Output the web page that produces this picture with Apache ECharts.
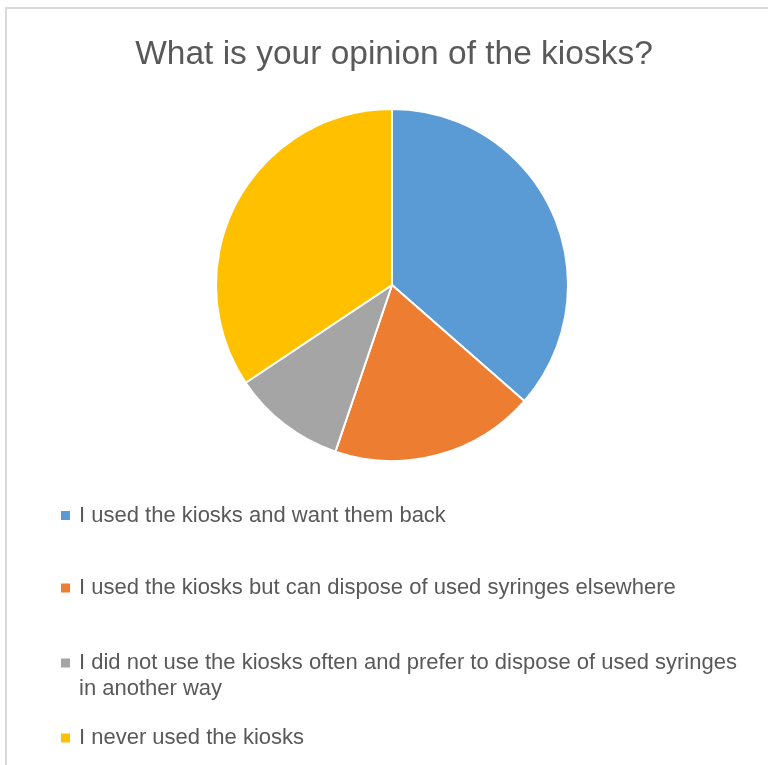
<!DOCTYPE html>
<html>
<head>
<meta charset="utf-8">
<script src="https://cdn.jsdelivr.net/npm/echarts@6/dist/echarts.min.js"></script>
<style>
html,body{margin:0;padding:0;background:#fff;}
#main{width:768px;height:765px;}
</style>
</head>
<body>
<div id="main"></div>
<script>
var titleText = 'What is your opinion of the kiosks?';
var categories = [
  'I used the kiosks and want them back',
  'I used the kiosks but can dispose of used syringes elsewhere',
  'I did not use the kiosks often and prefer to dispose of used syringes in another way',
  'I never used the kiosks'
];
var values = [35, 18, 10, 33];
var colors = ['#5B9BD5', '#ED7D31', '#A5A5A5', '#FFC000'];

var FONT = 'Liberation Sans';
var TEXT = '#595959';

var chart = echarts.init(document.getElementById('main'), null, {renderer: 'canvas'});

function mkLegend(idx, top, formatter) {
  var l = {
    orient: 'vertical',
    left: 61,
    top: top,
    padding: 0,
    itemWidth: 9,
    itemHeight: 9,
    icon: 'rect',
    selectedMode: false,
    itemStyle: {borderWidth: 0},
    data: [categories[idx]],
    textStyle: {fontFamily: FONT, fontSize: 22, color: TEXT, lineHeight: 26, padding: [0, 0, 0, 4]}
  };
  if (formatter) l.formatter = formatter;
  return l;
}

var option = {
  animation: false,
  color: colors,
  title: {
    text: titleText,
    left: 394,
    top: 37.5,
    padding: 0,
    textAlign: 'center',
    textStyle: {fontFamily: FONT, fontSize: 33.5, fontWeight: 'normal', color: TEXT}
  },
  graphic: [{
    type: 'rect',
    silent: true,
    shape: {x: 6, y: 8, width: 900, height: 900},
    style: {fill: 'none', stroke: '#D9D9D9', lineWidth: 2}
  }],
  legend: [
    mkLegend(0, 502.5),
    mkLegend(1, 575),
    mkLegend(2, 624, function (name) {
      return ' \nI did not use the kiosks often and prefer to dispose of used syringes\nin another way';
    }),
    mkLegend(3, 725)
  ],
  series: [{
    type: 'pie',
    center: [392, 285],
    radius: 176,
    startAngle: 90,
    clockwise: true,
    label: {show: false},
    labelLine: {show: false},
    emphasis: {disabled: true},
    itemStyle: {borderColor: '#FFFFFF', borderWidth: 2},
    data: categories.map(function (c, i) { return {name: c, value: values[i]}; })
  }]
};
chart.setOption(option);
</script>
</body>
</html>
